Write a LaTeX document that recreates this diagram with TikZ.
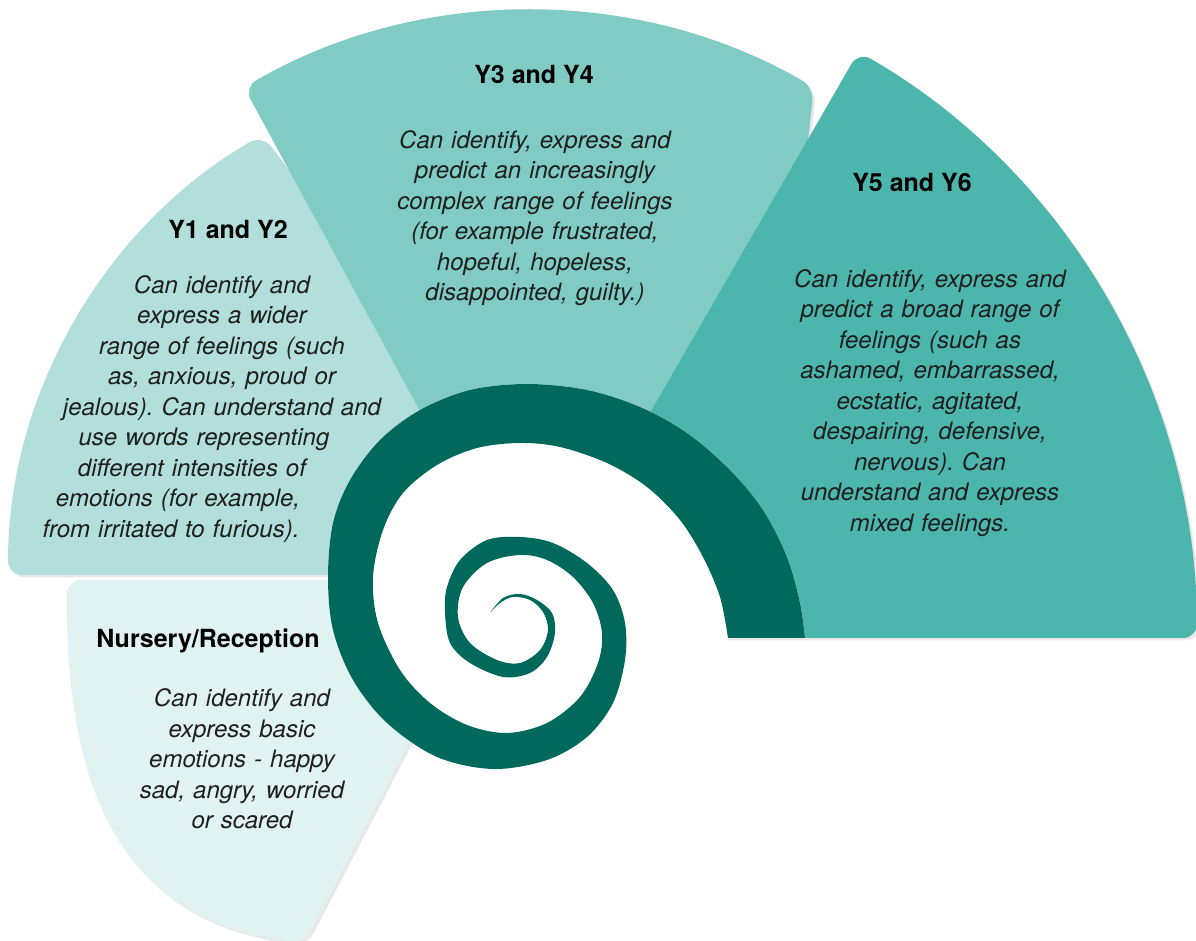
\documentclass[tikz,border=0pt]{standalone}
\usepackage{fontspec}
\setmainfont{TeX Gyre Heros}
\usetikzlibrary{shadows}

\definecolor{tealA}{HTML}{E0F2F1}
\definecolor{tealB}{HTML}{B2DFDB}
\definecolor{tealC}{HTML}{80CBC4}
\definecolor{tealD}{HTML}{4DB6AC}
\definecolor{spiralgreen}{HTML}{00695C}
\definecolor{bodytext}{HTML}{1F1F1F}

\tikzset{
  sector/.style={rounded corners=7pt,
    drop shadow={shadow xshift=1.2pt, shadow yshift=-1.2pt, opacity=.18}},
  heading/.style={font=\fontsize{12.5}{15}\selectfont\bfseries, inner sep=0pt},
  blurb/.style={font=\fontsize{12}{15.25}\selectfont\itshape\frenchspacing, text=bodytext,
    align=center, inner sep=0pt, text width=#1},
}

\begin{document}
\begin{tikzpicture}[x=0.5pt,y=0.5pt]
    \useasboundingbox (0,0) rectangle (1196,941);
    \fill[white] (0,0) rectangle (1196,941);
    %% sectors, back to front
    \fill[tealA, sector] (494,361) -- (67,361) .. controls (65,135) and (132,18) .. (305,-2) -- cycle;
    \fill[tealB, sector] (600,366) -- (8,366) arc[start angle=180, end angle=120, radius=508] -- cycle;
    \fill[tealC, sector] (470,438) -- ([shift={(529,360)}]120:570)
      arc[start angle=120, end angle=60, radius=570] -- (760,380) -- cycle;
    \fill[tealD, sector] (520,303) -- ++(60:677) arc[start angle=60, end angle=0, radius=677] -- cycle;
    %% spiral
    \fill[white] plot[smooth, tension=.55] coordinates {
      (805,303) (800,338) (787,384) (763,431) (730,471) (687,508) (640,534)
      (587,551) (527,557) (470,551) (420,531) (380,501) (350,461) (333,418)
      (328,364) (333,311) (353,261) (387,218) (437,184) (493,172) (547,181)
      (587,204) (613,238) (625,281)} -- (626,294) -- (728,294) -- (728,303) -- cycle;
    \fill[spiralgreen] plot[smooth, tension=.55] coordinates {
      (805,303) (800,338) (787,384) (763,431) (730,471) (687,508) (640,534)
      (587,551) (527,557) (470,551) (420,531) (380,501) (350,461) (333,418)
      (328,364) (333,311) (353,261) (387,218) (437,184) (493,172) (547,181)
      (587,204) (613,238) (625,281) (625,318) (613,351) (587,378) (553,398)
      (520,404) (487,401) (460,381) (447,354) (445,329) (450,298) (470,278)
      (503,264) (530,268) (547,284) (555,308) (552,328) (537,341) (520,347)
      (503,343) (490,328)}
      -- plot[smooth, tension=.55] coordinates {
      (490,328) (500,338) (513,344) (530,341) (543,329) (548,311) (540,291)
      (520,278) (497,281) (470,298) (458,324) (463,354) (487,378) (520,386)
      (547,381) (573,364) (593,338) (602,308) (598,278) (580,244) (547,218)
      (507,208) (467,216) (430,238) (400,271) (378,318) (373,364) (383,411)
      (403,448) (437,476) (477,493) (520,498) (560,494) (607,478) (647,454)
      (680,421) (703,384) (720,344) (728,303)} -- cycle;
    %% texts
    \node[heading] (nurseryhead) at (208,300) {Nursery/Reception};
    \node[blurb=150pt] (nurserytext) at (242,182) {Can identify and\\ express basic\\
      emotions - happy\\ sad, angry, worried\\ or scared};
    \node[heading] (yonehead) at (228,711) {Y1 and Y2};
    \node[blurb=190pt] (yonetext) at (222,532) {Can identify and\\ express a wider\\
      range of feelings (such\\ as, anxious, proud or\\ jealous). Can understand and\\
      \hspace*{-18pt}use words representing\\ \hspace*{-30pt}different intensities of\\
      \hspace*{-44pt}emotions (for example,\\ \hspace*{-51pt}from irritated to furious).};
    \node[heading] (ythreehead) at (534,866) {Y3 and Y4};
    \node[blurb=190pt] (ythreetext) at (535,723) {Can identify, express and\\
      predict an increasingly\\ complex range of feelings\\ (for example frustrated,\\
      hopeful, hopeless,\\ disappointed, guilty.)};
    \node[heading] (yfivehead) at (912,758) {Y5 and Y6};
    \node[blurb=190pt] (yfivetext) at (930,538) {Can identify, express and\\
      predict a broad range of\\ feelings (such as\\ ashamed, embarrassed,\\
      ecstatic, agitated,\\ despairing, defensive,\\ nervous). Can\\
      understand and express\\ mixed feelings.};
    %
\end{tikzpicture}
\end{document}
